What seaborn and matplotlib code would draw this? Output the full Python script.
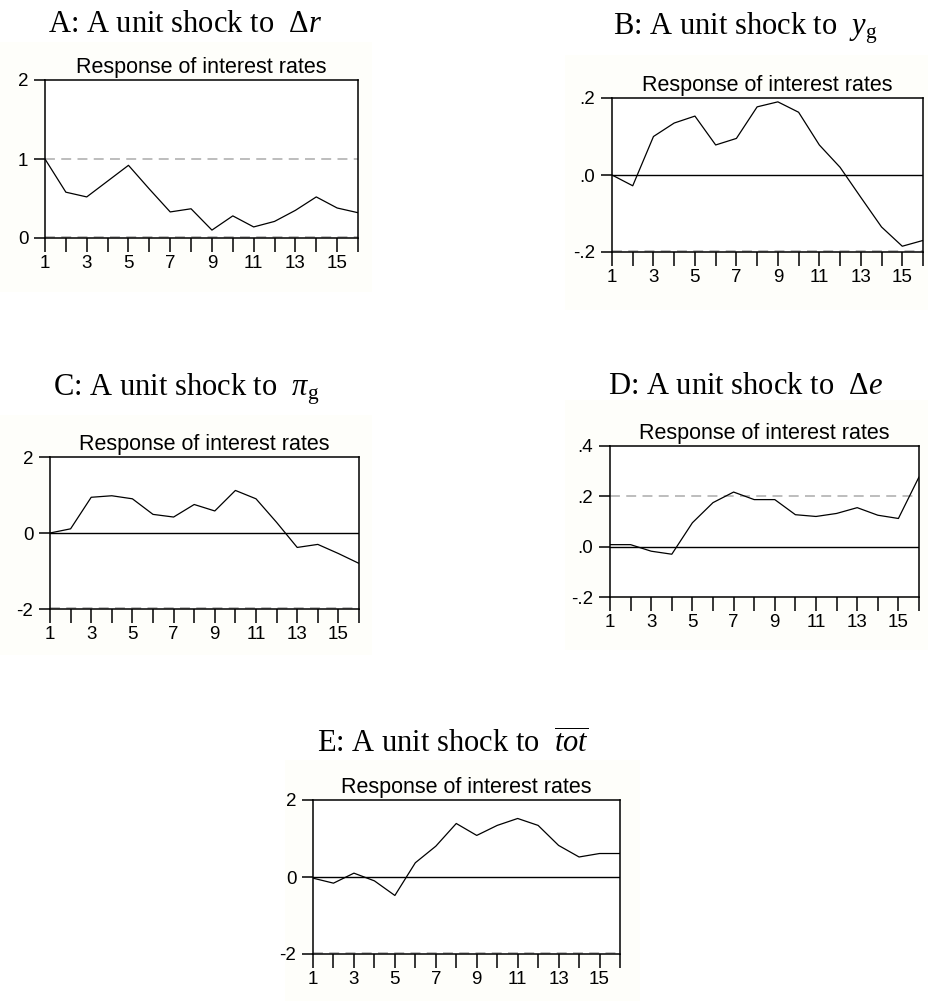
import matplotlib
matplotlib.use("Agg")
import matplotlib.pyplot as plt
import seaborn as sns
import pandas as pd
import numpy as np

# ---- data ----
periods = list(range(1, 17))
resp_A = [1.00, 0.58, 0.52, 0.72, 0.92, 0.62, 0.33, 0.37, 0.10, 0.28, 0.14, 0.21, 0.35, 0.52, 0.38, 0.32]
resp_B = [0.000, -0.028, 0.100, 0.135, 0.153, 0.078, 0.095, 0.177, 0.190, 0.163, 0.078, 0.020, -0.058, -0.135, -0.185, -0.170]
resp_C = [0.00, 0.11, 0.94, 0.98, 0.90, 0.49, 0.42, 0.75, 0.58, 1.12, 0.90, 0.28, -0.38, -0.30, -0.54, -0.80]
resp_D = [0.008, 0.008, -0.018, -0.030, 0.095, 0.175, 0.217, 0.187, 0.187, 0.127, 0.120, 0.132, 0.155, 0.125, 0.112, 0.277]
resp_E = [-0.03, -0.16, 0.10, -0.10, -0.48, 0.37, 0.80, 1.39, 1.08, 1.34, 1.52, 1.34, 0.82, 0.52, 0.61, 0.61]

titles = [r"A: A unit shock to  $\Delta r$",
          r"B: A unit shock to  $y_{\mathrm{g}}$",
          r"C: A unit shock to  $\pi_{\mathrm{g}}$",
          r"D: A unit shock to  $\Delta e$",
          r"E: A unit shock to  $\overline{tot}$"]
subtitle = "Response of interest rates"

ylims = [(0, 2), (-0.2, 0.2), (-2, 2), (-0.2, 0.4), (-2, 2)]
yticks = [[0, 1, 2], [-0.2, 0.0, 0.2], [-2, 0, 2], [-0.2, 0.0, 0.2, 0.4], [-2, 0, 2]]
yticklabels = [["0", "1", "2"], ["-.2", ".0", ".2"], ["-2", "0", "2"],
               ["-.2", ".0", ".2", ".4"], ["-2", "0", "2"]]
dashed_levels = [[1, 0], [-0.2], [-2], [0.2], [-2]]
zero_solid = [False, True, True, True, True]
xtick_labels = [str(p) if p % 2 == 1 else "" for p in periods]

series = [resp_A, resp_B, resp_C, resp_D, resp_E]

# ---- layout (pixels) ----
W, H = 929, 1001
boxes = [(45, 80, 358, 238), (612, 98, 923, 252), (50, 457, 359, 609),
         (610, 446, 919, 597), (313, 800, 620, 954)]
title_pos = [(48, 32), (613, 35), (53, 395), (608, 394), (317, 753)]
panel_bg = [(0, 42, 372, 292), (565, 55, 929, 310), (0, 415, 372, 655),
            (565, 400, 929, 650), (285, 760, 640, 1001)]

sns.set_theme(style="white")
plt.rcParams["font.family"] = ["Liberation Sans", "DejaVu Sans"]
plt.rcParams["mathtext.fontset"] = "custom"
plt.rcParams["mathtext.rm"] = "Liberation Serif"
plt.rcParams["mathtext.it"] = "Liberation Serif:italic"
plt.rcParams["mathtext.bf"] = "Liberation Serif:bold"

fig = plt.figure(figsize=(W / 100, H / 100), dpi=100)
fig.patch.set_facecolor("white")

for (l, t, r, b) in panel_bg:
    rect = plt.Rectangle((l / W, 1 - b / H), (r - l) / W, (b - t) / H,
                         transform=fig.transFigure, facecolor="#fefefa",
                         edgecolor="none", zorder=-10)
    fig.add_artist(rect)

for i in range(5):
    l, t, r, b = boxes[i]
    ax = fig.add_axes([l / W, 1 - b / H, (r - l) / W, (b - t) / H])
    ax.set_zorder(5)
    df = pd.DataFrame({"period": periods, "response": series[i]})
    lo, hi = ylims[i]
    rng = hi - lo
    for lev in dashed_levels[i]:
        yv = lev + (0.006 * rng if lev == lo else 0)
        ax.axhline(yv, color="#b8b8b8", lw=1.3, ls=(0, (5.5, 3.5)), zorder=1.5)
    if zero_solid[i]:
        ax.axhline(0, color="black", lw=1.0, zorder=1.6)
    sns.lineplot(data=df, x="period", y="response", ax=ax, color="black",
                 lw=0.9, zorder=3)
    ax.set_xlim(1, 16)
    ax.set_ylim(lo, hi)
    ax.set_xticks(periods)
    ax.set_xticklabels(xtick_labels)
    ax.set_yticks(yticks[i])
    ax.set_yticklabels(yticklabels[i])
    ax.set_xlabel("")
    ax.set_ylabel("")
    ax.tick_params(axis="x", direction="out", length=10, width=1.1, pad=2,
                   labelsize=13.5, colors="black", bottom=True)
    ax.tick_params(axis="y", direction="out", length=8, width=1.1, pad=4,
                   labelsize=13.5, colors="black", left=True)
    for s in ax.spines.values():
        s.set_color("black")
        s.set_linewidth(1.1)
        s.set_visible(True)
    ax.set_facecolor("white")
    ax.set_title(subtitle, fontsize=15.5, pad=5, color="black")
    tx, ty = title_pos[i]
    fig.text(tx / W, 1 - ty / H, titles[i], family="Liberation Serif",
             fontsize=22, ha="left", va="baseline", color="black", zorder=6)

fig.savefig("out.png", dpi=100, facecolor="white")
